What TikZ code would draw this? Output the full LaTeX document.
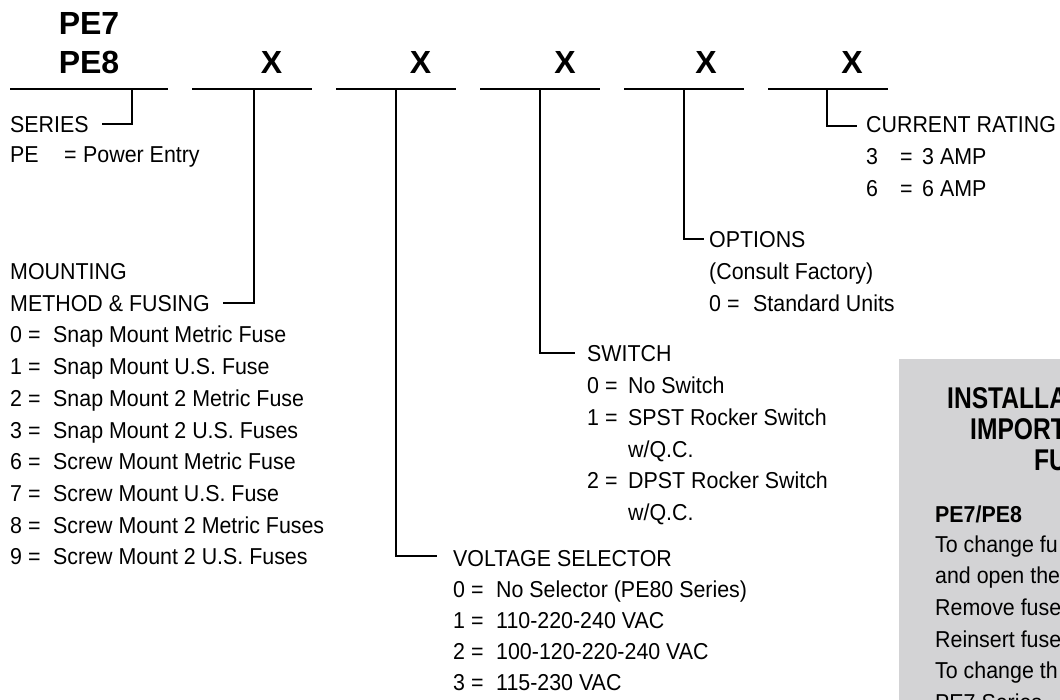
\documentclass[tikz,border=0pt]{standalone}
\usepackage{fontspec}
\setmainfont{Liberation Sans}[FakeStretch=0.93]
\newfontfamily\titlefont{Liberation Sans}
\newfontfamily\headfont{Liberation Sans}[FakeStretch=0.82]
\definecolor{boxgray}{RGB}{211,211,213}
\begin{document}
\begin{tikzpicture}[x=1pt,y=-1pt,
  txt/.style={anchor=base west,inner sep=0pt,font=\fontsize{23}{28}\selectfont},
  btxt/.style={anchor=base west,inner sep=0pt,font=\bfseries\fontsize{23}{28}\selectfont},
  ttl/.style={anchor=base,inner sep=0pt,font=\titlefont\bfseries\fontsize{32}{36}\selectfont},
  hd/.style={anchor=base west,inner sep=0pt,font=\headfont\bfseries\fontsize{30}{34}\selectfont},
  uline/.style={line width=2.8pt},
  conn/.style={line width=1.6pt}]
\useasboundingbox (0,0) rectangle (1060,700);
\clip (0,0) rectangle (1060,700);

% info box (cut off at the page edge, as in the reference)
\fill[boxgray] (899,359) rectangle (1080,720);
\node[hd] (h1) at (947,408) {INSTALLA};
\node[hd] (h2) at (970,439) {IMPORT};
\node[hd] (h3) at (1034,470) {FU};
\node[btxt] (b0) at (935,522) {PE7/PE8};
\node[txt] (b1) at (935,552) {To change fu};
\node[txt] (b2) at (935,583) {and open the};
\node[txt] (b3) at (935,615) {Remove fuse};
\node[txt] (b4) at (935,647) {Reinsert fuse};
\node[txt] (b5) at (935,678) {To change th};
\node[txt] (b6) at (935,710) {PE7 Series};

% heading
\node[ttl] (pe7) at (89,35) {PE7};
\node[ttl] (pe8) at (89,74) {PE8};
\node[ttl] (x2) at (271.5,74) {X};
\node[ttl] (x3) at (420.5,74) {X};
\node[ttl] (x4) at (565,74) {X};
\node[ttl] (x5) at (706,74) {X};
\node[ttl] (x6) at (852,74) {X};

% underlines
\coordinate (u1a) at (10,89);  \coordinate (u1b) at (168,89);
\coordinate (u2a) at (192,89); \coordinate (u2b) at (312,89);
\coordinate (u3a) at (336,89); \coordinate (u3b) at (456,89);
\coordinate (u4a) at (480,89); \coordinate (u4b) at (600,89);
\coordinate (u5a) at (624,89); \coordinate (u5b) at (744,89);
\coordinate (u6a) at (768,89); \coordinate (u6b) at (888,89);
\foreach \k in {1,...,6} {\draw[uline] (u\k a) -- (u\k b);}

% connector points
\coordinate (c1) at (132,89);  \coordinate (e1) at (102,124);
\coordinate (c2) at (254,89);  \coordinate (e2) at (223,303);
\coordinate (c3) at (396,89);  \coordinate (e3) at (437,556);
\coordinate (c4) at (540,89);  \coordinate (e4) at (575,353);
\coordinate (c5) at (684,89);  \coordinate (e5) at (704,239);
\coordinate (c6) at (827,89);  \coordinate (e6) at (857,126);
\foreach \k in {1,...,6} {\draw[conn] (c\k) |- (e\k);}

% series
\node[txt] (ser) at (10,133) {SERIES};
\node[txt] (serA) at (10,163) {PE};
\node[txt] (serB) at (64,163) {=};
\node[txt] (serC) at (83,163) {Power Entry};

% mounting
\node[txt] (mou1) at (10,280) {MOUNTING};
\node[txt] (mou2) at (10,312) {METHOD \& FUSING};
\foreach \n/\t [count=\i from 0] in {0/Snap Mount Metric Fuse,1/Snap Mount U.S. Fuse,2/Snap Mount 2 Metric Fuse,3/Snap Mount 2 U.S. Fuses,6/Screw Mount Metric Fuse,7/Screw Mount U.S. Fuse,8/Screw Mount 2 Metric Fuses,9/Screw Mount 2 U.S. Fuses} {
  \node[txt] (mn\i) at (10,{343+\i*31.67}) {\n\ =};
  \node[txt] (mt\i) at (53,{343+\i*31.67}) {\t};
}

% voltage selector
\node[txt] (vol) at (453,566) {VOLTAGE SELECTOR};
\foreach \n/\t [count=\i from 0] in {0/No Selector (PE80 Series),1/110-220-240 VAC,2/100-120-220-240 VAC,3/115-230 VAC} {
  \node[txt] (vn\i) at (453,{597+\i*31.3}) {\n\ =};
  \node[txt] (vt\i) at (496,{597+\i*31.3}) {\t};
}

% switch
\node[txt] (sw) at (587,362) {SWITCH};
\node[txt] (swn0) at (587,393) {0 =};
\node[txt] (swt0) at (628,393) {No Switch};
\node[txt] (swn1) at (587,425) {1 =};
\node[txt] (swt1) at (628,425) {SPST Rocker Switch};
\node[txt] (swq1) at (628,457) {w/Q.C.};
\node[txt] (swn2) at (587,488) {2 =};
\node[txt] (swt2) at (628,488) {DPST Rocker Switch};
\node[txt] (swq2) at (628,520) {w/Q.C.};

% options
\node[txt] (opt) at (709,248) {OPTIONS};
\node[txt] (opt1) at (709,280) {(Consult Factory)};
\node[txt] (optn) at (709,312) {0 =};
\node[txt] (optt) at (753,312) {Standard Units};

% current rating
\node[txt] (cur) at (866,133) {CURRENT RATING};
\node[txt] (cn3) at (866,165) {3};
\node[txt] (ce3) at (900,165) {=};
\node[txt] (ct3) at (922,165) {3 AMP};
\node[txt] (cn6) at (866,197) {6};
\node[txt] (ce6) at (900,197) {=};
\node[txt] (ct6) at (922,197) {6 AMP};
\end{tikzpicture}
\end{document}
